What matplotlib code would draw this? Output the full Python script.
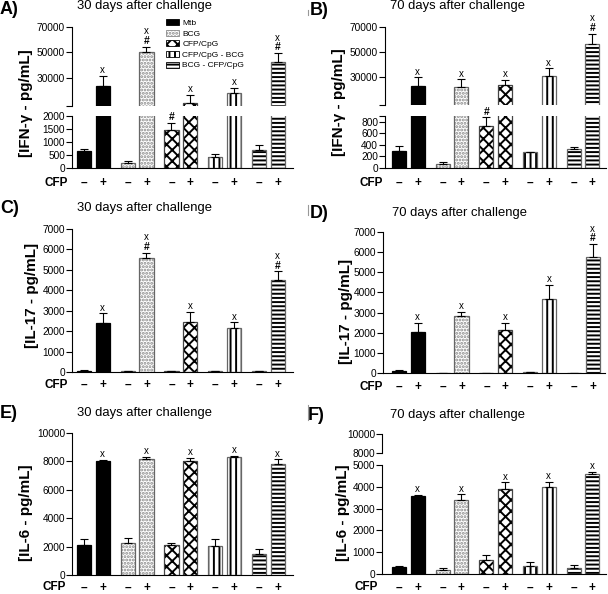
import matplotlib
matplotlib.use("Agg")
import matplotlib.pyplot as plt
from matplotlib.patches import Patch
from matplotlib.lines import Line2D
from matplotlib.transforms import blended_transform_factory

plt.rcParams['font.family'] = ['Liberation Sans', 'DejaVu Sans']
plt.rcParams['hatch.linewidth'] = 1.4

W, H = 608, 594

# --- data, order: Mtb, BCG, CFP/CpG, CFP/CpG-BCG, BCG-CFP/CpG ---
groups = ["Mtb", "BCG", "CFP/CpG", "CFP/CpG - BCG", "BCG - CFP/CpG"]

ifng30_minus = [650, 200, 1480, 430, 700]
ifng30_minus_err = [100, 55, 250, 110, 170]
ifng30_plus = [23700, 50000, 10100, 17400, 42300]
ifng30_plus_err = [7500, 4500, 6000, 4700, 7100]
ifng30_minus_marks = ["", "", "#", "", ""]
ifng30_plus_marks = ["x", "#x", "x", "x", "#x"]

ifng70_minus = [290, 70, 720, 275, 330]
ifng70_minus_err = [95, 35, 155, 10, 40]
ifng70_plus = [23200, 22100, 24000, 31000, 56700]
ifng70_plus_err = [6800, 6300, 3700, 6100, 7900]
ifng70_minus_marks = ["", "", "#", "", ""]
ifng70_plus_marks = ["x", "x", "x", "x", "#x"]

il17_30_minus = [60, 50, 50, 50, 30]
il17_30_minus_err = [20, 15, 15, 15, 10]
il17_30_plus = [2400, 5560, 2430, 2130, 4500]
il17_30_plus_err = [470, 280, 520, 300, 430]
il17_30_plus_marks = ["x", "#x", "x", "x", "#x"]

il17_70_minus = [110, 10, 10, 40, 10]
il17_70_minus_err = [60, 5, 5, 10, 5]
il17_70_plus = [2050, 2830, 2130, 3650, 5750]
il17_70_plus_err = [430, 200, 350, 720, 650]
il17_70_plus_marks = ["x", "x", "x", "x", "#x"]

il6_30_minus = [2100, 2280, 2100, 2020, 1510]
il6_30_minus_err = [450, 300, 150, 500, 300]
il6_30_plus = [8050, 8200, 8050, 8330, 7850]
il6_30_plus_err = [50, 100, 200, 50, 300]
il6_30_plus_marks = ["x", "x", "x", "x", "x"]

il6_70_minus = [300, 200, 655, 350, 280]
il6_70_minus_err = [80, 90, 200, 180, 120]
il6_70_plus = [3580, 3400, 3920, 4000, 4600]
il6_70_plus_err = [50, 250, 290, 220, 100]
il6_70_plus_marks = ["x", "x", "x", "x", "x"]

# bar styles: face, outline, hatch, hatch colour
styles = [
    ("black", "black", None, "black"),
    ("white", "#666666", ".....", "#8a8a8a"),
    ("white", "#444444", "xxx", "black"),
    ("white", "#666666", "|||", "black"),
    ("white", "#666666", "----", "black"),
]

fig = plt.figure(figsize=(W / 100, H / 100), dpi=100)


def make_ax(x0, y0, x1, y1):
    return fig.add_axes([x0 / W, 1 - y1 / H, (x1 - x0) / W, (y1 - y0) / H])


def style_ax(ax, xlim, ylim, ticks, labels=None, bottom=True):
    for s in ["top", "right"]:
        ax.spines[s].set_visible(False)
    ax.spines["bottom"].set_visible(bottom)
    ax.spines["left"].set_linewidth(0.8)
    ax.spines["bottom"].set_linewidth(0.8)
    ax.set_xlim(xlim)
    ax.set_ylim(ylim)
    ax.set_xticks([])
    ax.set_yticks(ticks)
    if labels is None:
        labels = [str(t) for t in ticks]
    ax.set_yticklabels(labels)
    ax.tick_params(axis="y", direction="out", length=4, width=0.8, pad=1, labelsize=7.3)
    ax.patch.set_alpha(0)


def bar_x(g, k):
    return g * 7 / 3 + k


def draw_bars(ax, minus, plus, minus_err, plus_err):
    for g in range(5):
        face, edge, hatch, hcol = styles[g]
        for k, vals, errs in ((0, minus, minus_err), (1, plus, plus_err)):
            x = bar_x(g, k)
            if hatch:
                ax.bar(x, vals[g], width=0.75, color=face, edgecolor=hcol, hatch=hatch, linewidth=0)
                ax.bar(x, vals[g], width=0.75, fill=False, edgecolor=edge, linewidth=0.9)
            else:
                ax.bar(x, vals[g], width=0.75, color=face, edgecolor=edge, linewidth=0.9)
            ax.errorbar(x, vals[g], yerr=[[0], [errs[g]]], fmt="none", ecolor="black",
                        elinewidth=0.8, capsize=2.8, capthick=0.8)


def draw_marks(ax, vals, errs, marks, k):
    lo, hi = ax.get_ylim()
    for g in range(5):
        top = vals[g] + errs[g]
        if not marks[g] or top > hi or vals[g] < lo:
            continue
        x = bar_x(g, k)
        off = 0.5
        if "#" in marks[g]:
            ax.annotate("#", (x, top), xytext=(0, off), textcoords="offset points",
                        ha="center", va="bottom", fontsize=7.5, fontweight="bold")
            off = 7.5
        if "x" in marks[g]:
            ax.annotate("x", (x, top), xytext=(0, off), textcoords="offset points",
                        ha="center", va="bottom", fontsize=7)


def cfp_row(ax, y_px, x_px, va="center"):
    fig.text(x_px / W, 1 - y_px / H, "CFP", ha="center", va=va,
             fontsize=8.5, fontweight="bold")
    tr = blended_transform_factory(ax.transData, fig.transFigure)
    for g in range(5):
        ax.text(bar_x(g, 0), 1 - y_px / H, "–", transform=tr, ha="center", va=va,
                fontsize=8.5, fontweight="bold")
        ax.text(bar_x(g, 1), 1 - y_px / H, "+", transform=tr, ha="center", va=va,
                fontsize=8.5, fontweight="bold")


def headers(letter, lx, ly, title, tx, ty, ylabel, yx, yy):
    fig.text(lx / W, 1 - ly / H, letter, ha="left", va="baseline", fontsize=13, fontweight="bold")
    fig.text(tx / W, 1 - ty / H, title, ha="center", va="baseline", fontsize=9.4)
    fig.text(yx / W, 1 - yy / H, ylabel, ha="center", va="center", rotation=90,
             fontsize=11, fontweight="bold")


xl_left = (-0.64, 11.15)

# ---- A ----
a_up = make_ax(72, 27, 293, 106)
a_lo = make_ax(72, 116, 293, 168)
for ax in (a_up, a_lo):
    draw_bars(ax, ifng30_minus, ifng30_plus, ifng30_minus_err, ifng30_plus_err)
style_ax(a_up, xl_left, (7500, 70000), [7500, 30000, 50000, 70000], ["", "30000", "50000", "70000"], bottom=False)
style_ax(a_lo, xl_left, (0, 2000), [0, 500, 1000, 1500, 2000])
draw_marks(a_lo, ifng30_minus, ifng30_minus_err, ifng30_minus_marks, 0)
draw_marks(a_up, ifng30_plus, ifng30_plus_err, ifng30_plus_marks, 1)
cfp_row(a_lo, 183, 56)
headers("A)", 0, 14, "30 days after challenge", 144.5, 9, "[IFN-γ - pg/mL]", 26, 103)

# ---- B ----
xl_b = (-0.75, 11.07)
b_up = make_ax(385, 27, 606, 105)
b_lo = make_ax(385, 116, 606, 168)
for ax in (b_up, b_lo):
    draw_bars(ax, ifng70_minus, ifng70_plus, ifng70_minus_err, ifng70_plus_err)
style_ax(b_up, xl_b, (7900, 70000), [7900, 30000, 50000, 70000], ["", "30000", "50000", "70000"], bottom=False)
style_ax(b_lo, xl_b, (0, 900), [0, 200, 400, 600, 800, 900], ["0", "200", "400", "600", "800", ""])
draw_marks(b_lo, ifng70_minus, ifng70_minus_err, ifng70_minus_marks, 0)
draw_marks(b_up, ifng70_plus, ifng70_plus_err, ifng70_plus_marks, 1)
cfp_row(b_lo, 183, 371)
headers("B)", 310, 15, "70 days after challenge", 458, 9, "[IFN-γ - pg/mL]", 339, 102)

# ---- C ----
c_ax = make_ax(72, 229, 293, 372)
draw_bars(c_ax, il17_30_minus, il17_30_plus, il17_30_minus_err, il17_30_plus_err)
style_ax(c_ax, xl_left, (0, 7000), list(range(0, 7001, 1000)))
draw_marks(c_ax, il17_30_plus, il17_30_plus_err, il17_30_plus_marks, 1)
cfp_row(c_ax, 385, 56)
headers("C)", 0, 213, "30 days after challenge", 144.5, 211, "[IL-17 - pg/mL]", 32, 295)

# ---- D ----
d_ax = make_ax(383, 232, 605, 373)
draw_bars(d_ax, il17_70_minus, il17_70_plus, il17_70_minus_err, il17_70_plus_err)
style_ax(d_ax, (-0.86, 11.0), (0, 7000), list(range(0, 7001, 1000)))
draw_marks(d_ax, il17_70_plus, il17_70_plus_err, il17_70_plus_marks, 1)
cfp_row(d_ax, 387, 371)
headers("D)", 310, 218, "70 days after challenge", 460, 216, "[IL-17 - pg/mL]", 346, 311)

# ---- E ----
e_ax = make_ax(72, 433, 293, 575)
draw_bars(e_ax, il6_30_minus, il6_30_plus, il6_30_minus_err, il6_30_plus_err)
style_ax(e_ax, xl_left, (0, 10000), list(range(0, 10001, 2000)))
draw_marks(e_ax, il6_30_plus, il6_30_plus_err, il6_30_plus_marks, 1)
cfp_row(e_ax, 593.5, 54, va="bottom")
headers("E)", 0, 418, "30 days after challenge", 144.5, 416, "[IL-6 - pg/mL]", 26, 513)

# ---- F ----
xl_f = (-0.91, 11.07)
f_up = make_ax(382, 434, 606, 453)
f_lo = make_ax(382, 465, 606, 574)
for ax in (f_up, f_lo):
    draw_bars(ax, il6_70_minus, il6_70_plus, il6_70_minus_err, il6_70_plus_err)
style_ax(f_up, xl_f, (8000, 10000), [8000, 10000], bottom=False)
style_ax(f_lo, xl_f, (0, 5000), list(range(0, 5001, 1000)))
draw_marks(f_lo, il6_70_plus, il6_70_plus_err, il6_70_plus_marks, 1)
cfp_row(f_lo, 593.5, 366, va="bottom")
headers("F)", 308, 420, "70 days after challenge", 458, 418, "[IL-6 - pg/mL]", 343, 513)

# legend in panel A
handles = []
for g in range(5):
    face, edge, hatch, hcol = styles[g]
    if hatch:
        handles.append(Patch(facecolor=face, edgecolor=hcol, hatch=hatch, linewidth=0.6))
    else:
        handles.append(Patch(facecolor=face, edgecolor=edge, linewidth=0.6))
fig.legend(handles, groups, loc="upper left", bbox_to_anchor=(166 / W, 1 - 19 / H),
           frameon=False, fontsize=6, handlelength=1.56, handleheight=0.75,
           labelspacing=0.32, handletextpad=0.4, borderpad=0, borderaxespad=0)

# small crop marks at the right of the left column
for y0, y1 in ((10, 15), (205, 215), (405, 420)):
    fig.add_artist(Line2D([308 / W, 308 / W], [1 - y0 / H, 1 - y1 / H], color="#999999", linewidth=0.8))

fig.savefig("out.png", dpi=100)
